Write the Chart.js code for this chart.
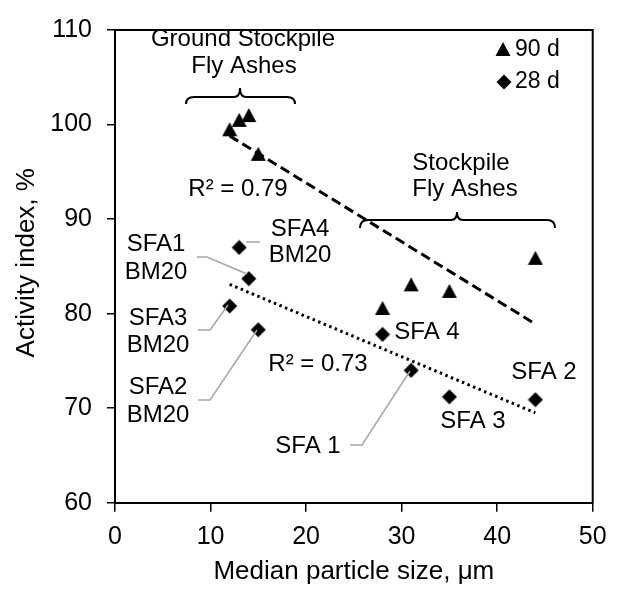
<!DOCTYPE html>
<html>
<head>
<meta charset="utf-8">
<script src="https://cdn.jsdelivr.net/npm/chart.js@4.4.0/dist/chart.umd.min.js"></script>
<style>
  html, body { margin: 0; padding: 0; background: #fff; }
</style>
</head>
<body>
<canvas id="chart" width="620" height="592"></canvas>
<script>
const FONT = 'Arial, "Liberation Sans", sans-serif';

// data
const size90 = [12, 13, 14, 15, 28, 31, 35, 44];
const act90 = [99.5, 100.5, 101, 96.9, 80.6, 83.1, 82.4, 85.9];
const size28 = [13, 14, 12, 15, 28, 31, 35, 44];
const act28 = [87, 83.7, 80.8, 78.3, 77.8, 74, 71.2, 70.9];
const trendSize = [12, 44];
const trend90 = [98.8, 78.9];
const trend28 = [83.1, 69.5];
const xTicks = [0, 10, 20, 30, 40, 50];
const yTicks = [60, 70, 80, 90, 100, 110];

const pts = (xs, ys) => xs.map((x, i) => ({ x: x, y: ys[i] }));

// annotation texts (pixel positions, centre)
const labels = [
  ["Ground Stockpile", 243, 39], ["Fly Ashes", 244, 66],
  ["Stockpile", 461, 163], ["Fly Ashes", 465, 189],
  ["R\u00b2 = 0.79", 238, 189], ["R\u00b2 = 0.73", 318, 364],
  ["SFA4", 300, 229], ["BM20", 300, 255],
  ["SFA1", 156, 244], ["BM20", 156, 272],
  ["SFA3", 158, 318], ["BM20", 158, 345],
  ["SFA2", 158, 387], ["BM20", 158, 415],
  ["SFA 1", 308, 446], ["SFA 4", 427, 332],
  ["SFA 2", 544, 372], ["SFA 3", 473, 421]
];
const leaders = [
  [[260, 242], [246, 242]],
  [[197, 257], [207, 257], [247, 274]],
  [[198, 330], [210, 330], [228, 305]],
  [[198, 400], [210, 400], [257, 330]],
  [[350, 445], [362, 445], [410, 371]]
];
const braces = [
  { x1: 186, x2: 295, xm: 240, y: 97, tip: 104, peak: 88 },
  { x1: 360, x2: 555, xm: 457, y: 220, tip: 228, peak: 212 }
];

// Excel-like markers
function makeMarker(kind) {
  const c = document.createElement("canvas");
  c.width = 16; c.height = 16;
  const g = c.getContext("2d");
  g.fillStyle = "#000";
  g.beginPath();
  if (kind === "triangle") {
    g.moveTo(8, 1); g.lineTo(15.5, 15); g.lineTo(0.5, 15);
  } else {
    g.moveTo(8, 0.5); g.lineTo(15.5, 8); g.lineTo(8, 15.5); g.lineTo(0.5, 8);
  }
  g.closePath();
  g.fill();
  return c;
}
const triMarker = makeMarker("triangle");
const diaMarker = makeMarker("diamond");

const extras = {
  id: "extras",
  afterDraw(chart) {
    const ctx = chart.ctx;
    const a = chart.chartArea;
    ctx.save();
    // plot frame top / right
    ctx.strokeStyle = "#000";
    ctx.lineWidth = 2;
    ctx.beginPath();
    ctx.moveTo(a.left, a.top); ctx.lineTo(a.right, a.top); ctx.lineTo(a.right, a.bottom);
    ctx.stroke();

    // braces
    braces.forEach(b => {
      ctx.beginPath();
      ctx.moveTo(b.x1, b.tip);
      ctx.quadraticCurveTo(b.x1, b.y, b.x1 + 8, b.y);
      ctx.lineTo(b.xm - 6, b.y);
      ctx.quadraticCurveTo(b.xm, b.y, b.xm, b.peak);
      ctx.quadraticCurveTo(b.xm, b.y, b.xm + 6, b.y);
      ctx.lineTo(b.x2 - 8, b.y);
      ctx.quadraticCurveTo(b.x2, b.y, b.x2, b.tip);
      ctx.stroke();
    });

    // leader lines
    ctx.strokeStyle = "#a6a6a6";
    ctx.lineWidth = 1.5;
    leaders.forEach(l => {
      ctx.beginPath();
      ctx.moveTo(l[0][0], l[0][1]);
      for (let i = 1; i < l.length; i++) ctx.lineTo(l[i][0], l[i][1]);
      ctx.stroke();
    });

    // texts
    ctx.fillStyle = "#000";
    ctx.font = "24px " + FONT;
    ctx.textAlign = "center";
    ctx.textBaseline = "middle";
    labels.forEach(t => ctx.fillText(t[0], t[1], t[2]));

    // legend
    ctx.font = "23px " + FONT;
    ctx.textAlign = "left";
    ctx.drawImage(triMarker, 495, 41);
    ctx.fillText(chart.data.datasets[0].label, 515, 50);
    ctx.drawImage(diaMarker, 496, 74);
    ctx.fillText(chart.data.datasets[1].label, 515, 82);
    ctx.restore();
  }
};

new Chart(document.getElementById("chart"), {
  type: "scatter",
  data: {
    datasets: [
      {
        label: "90 d",
        data: pts(size90, act90),
        pointStyle: triMarker,
        pointRadius: 8
      },
      {
        label: "28 d",
        data: pts(size28, act28),
        pointStyle: diaMarker,
        pointRadius: 8
      },
      {
        label: "trend 90 d",
        data: pts(trendSize, trend90),
        showLine: true,
        pointRadius: 0,
        borderColor: "#000",
        borderWidth: 3,
        borderDash: [10, 5]
      },
      {
        label: "trend 28 d",
        data: pts(trendSize, trend28),
        showLine: true,
        pointRadius: 0,
        borderColor: "#000",
        borderWidth: 3,
        borderDash: [2.5, 3.5]
      }
    ]
  },
  options: {
    responsive: false,
    animation: false,
    devicePixelRatio: 1,
    layout: { padding: { top: 20.7, right: 27.3, left: 0, bottom: 0 } },
    plugins: {
      legend: { display: false },
      tooltip: { enabled: false }
    },
    scales: {
      x: {
        type: "linear",
        min: 0,
        max: 50,
        afterBuildTicks: s => { s.ticks = xTicks.map(v => ({ value: v })); },
        afterFit: s => { s.height = 89.3; },
        grid: { display: true, drawOnChartArea: false, drawTicks: true, tickLength: 9, color: "#000", lineWidth: 1.5 },
        border: { display: true, color: "#000", width: 2 },
        ticks: { color: "#000", padding: 10, font: { family: FONT, size: 25 } },
        title: {
          display: true,
          text: "Median particle size, \u03bcm",
          color: "#000",
          padding: { top: 0, bottom: 10 },
          font: { family: FONT, size: 26, lineHeight: 0.77 }
        }
      },
      y: {
        type: "linear",
        min: 60,
        max: 110,
        afterBuildTicks: s => { s.ticks = yTicks.map(v => ({ value: v })); },
        afterFit: s => { s.width = 115; },
        grid: { display: true, drawOnChartArea: false, drawTicks: true, tickLength: 8, color: "#000", lineWidth: 1.5 },
        border: { display: true, color: "#000", width: 2 },
        ticks: { color: "#000", padding: 15, font: { family: FONT, size: 25 } },
        title: {
          display: true,
          text: " Activity index, %",
          color: "#000",
          padding: { top: 17, bottom: 0 },
          font: { family: FONT, size: 26, lineHeight: 0.77 }
        }
      }
    }
  },
  plugins: [extras]
});
</script>
</body>
</html>
